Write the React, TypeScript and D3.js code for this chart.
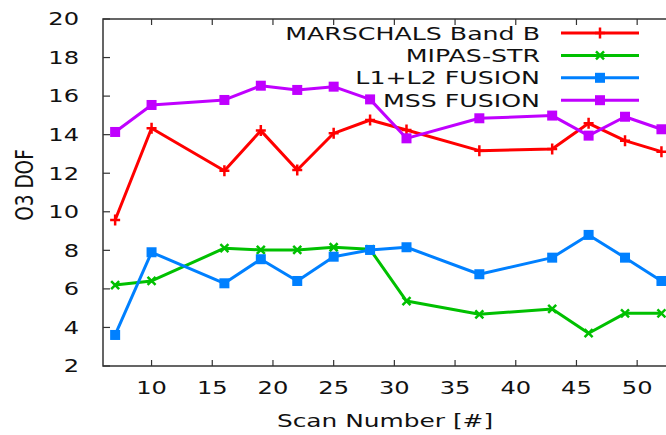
import React, { useEffect, useRef } from 'react'
import * as d3 from 'd3'

const scans = [7, 10, 16, 19, 22, 25, 28, 31, 37, 43, 46, 49, 52]
const marschals = [9.57, 14.33, 12.13, 14.21, 12.17, 14.07, 14.76, 14.24, 13.17, 13.26, 14.59, 13.69, 13.12]
const mipas = [6.2, 6.41, 8.11, 8.02, 8.02, 8.16, 8.05, 5.37, 4.68, 4.96, 3.7, 4.73, 4.73]
const fusionL1L2 = [3.61, 7.9, 6.29, 7.54, 6.41, 7.67, 8.02, 8.16, 6.76, 7.62, 8.8, 7.62, 6.41]
const fusionMSS = [14.14, 15.54, 15.8, 16.54, 16.32, 16.49, 15.83, 13.81, 14.85, 14.99, 13.95, 14.93, 14.28]
const xTicks = [10, 15, 20, 25, 30, 35, 40, 45, 50]
const yTicks = [2, 4, 6, 8, 10, 12, 14, 16, 18, 20]

const series = [
    { name: 'MARSCHALS Band B', values: marschals, color: '#ff0000', marker: 'plus' },
    { name: 'MIPAS-STR', values: mipas, color: '#00c000', marker: 'cross' },
    { name: 'L1+L2 FUSION', values: fusionL1L2, color: '#0080ff', marker: 'square' },
    { name: 'MSS FUSION', values: fusionMSS, color: '#c000ff', marker: 'square' },
]

const FONT = 'DejaVu Sans, sans-serif'
const STRETCH = 1.38

const Chart: React.FC = () => {
    const ref = useRef<SVGSVGElement | null>(null)

    useEffect(() => {
        if (!ref.current) return
        const width = 666
        const svg = d3.select(ref.current)
        svg.selectAll('*').remove()

        // plot runs past the right edge of the picture, as in the source
        const x = d3.scaleLinear().domain([6, 56]).range([103, 103 + 50 * 12.14])
        const y = d3.scaleLinear().domain([2, 20]).range([366, 19])
        const axisColor = '#333'

        // frame
        svg.append('path')
            .attr('d', `M${width + 10},19 H103 V366 H${width + 10}`)
            .attr('fill', 'none')
            .attr('stroke', axisColor)
            .attr('stroke-width', 1.5)

        // ticks
        yTicks.forEach(t => {
            svg.append('line')
                .attr('x1', 103).attr('x2', 110)
                .attr('y1', y(t)).attr('y2', y(t))
                .attr('stroke', axisColor).attr('stroke-width', 1.2)
            svg.append('text')
                .attr('transform', `translate(79,${y(t)}) scale(${STRETCH},1)`)
                .attr('dy', '0.36em')
                .attr('text-anchor', 'end')
                .attr('font-family', FONT)
                .attr('font-size', 17.5)
                .attr('fill', '#111')
                .text(t)
        })
        xTicks.forEach(t => {
            svg.append('line')
                .attr('x1', x(t)).attr('x2', x(t))
                .attr('y1', 366).attr('y2', 360)
                .attr('stroke', axisColor).attr('stroke-width', 1.2)
            svg.append('line')
                .attr('x1', x(t)).attr('x2', x(t))
                .attr('y1', 19).attr('y2', 25)
                .attr('stroke', axisColor).attr('stroke-width', 1.2)
            svg.append('text')
                .attr('transform', `translate(${x(t)},388) scale(${STRETCH},1)`)
                .attr('dy', '0.36em')
                .attr('text-anchor', 'middle')
                .attr('font-family', FONT)
                .attr('font-size', 17.5)
                .attr('fill', '#111')
                .text(t)
        })

        // axis titles
        svg.append('text')
            .attr('transform', `translate(385,421) scale(${STRETCH},1)`)
            .attr('dy', '0.36em')
            .attr('text-anchor', 'middle')
            .attr('font-family', FONT)
            .attr('font-size', 18)
            .attr('fill', '#111')
            .text('Scan Number [#]')
        svg.append('text')
            .attr('transform', `translate(24,185) scale(${STRETCH},1) rotate(-90)`)
            .attr('dy', '0.36em')
            .attr('text-anchor', 'middle')
            .attr('font-family', FONT)
            .attr('font-size', 18.5)
            .attr('fill', '#111')
            .text('O3 DOF')

        const drawMarker = (g: d3.Selection<SVGGElement, unknown, null, undefined>, type: string, cx: number, cy: number, color: string) => {
            if (type === 'square') {
                g.append('rect')
                    .attr('x', cx - 5).attr('y', cy - 5)
                    .attr('width', 10).attr('height', 10)
                    .attr('fill', color)
            } else if (type === 'plus') {
                g.append('path')
                    .attr('d', `M${cx - 5},${cy} H${cx + 5} M${cx},${cy - 5.5} V${cy + 5.5}`)
                    .attr('stroke', color).attr('stroke-width', 2.5).attr('fill', 'none')
            } else {
                g.append('path')
                    .attr('d', `M${cx - 4},${cy - 4} L${cx + 4},${cy + 4} M${cx - 4},${cy + 4} L${cx + 4},${cy - 4}`)
                    .attr('stroke', color).attr('stroke-width', 2.5).attr('fill', 'none')
            }
        }

        const line = d3.line<number>()
            .x((_, i) => x(scans[i]))
            .y(d => y(d))

        series.forEach(s => {
            const g = svg.append('g')
            g.append('path')
                .attr('d', line(s.values) as string)
                .attr('fill', 'none')
                .attr('stroke', s.color)
                .attr('stroke-width', 3)
                .attr('stroke-linejoin', 'round')
            s.values.forEach((v, i) => drawMarker(g, s.marker, x(scans[i]), y(v), s.color))
        })

        // legend
        series.forEach((s, i) => {
            const ly = 33 + i * 22.4
            const g = svg.append('g')
            g.append('text')
                .attr('transform', `translate(540,${ly}) scale(${STRETCH},1)`)
                .attr('dy', '0.36em')
                .attr('text-anchor', 'end')
                .attr('font-family', FONT)
                .attr('font-size', 18.3)
                .attr('fill', '#111')
                .text(s.name)
            g.append('line')
                .attr('x1', 561).attr('x2', 639)
                .attr('y1', ly).attr('y2', ly)
                .attr('stroke', s.color).attr('stroke-width', 3)
            drawMarker(g, s.marker, 600, ly, s.color)
        })
    }, [])

    return <svg ref={ref} width={666} height={435} style={{ position: 'absolute', left: 0, top: 0, background: '#fff' }} />
}

export default function App() {
    return <Chart />
}
